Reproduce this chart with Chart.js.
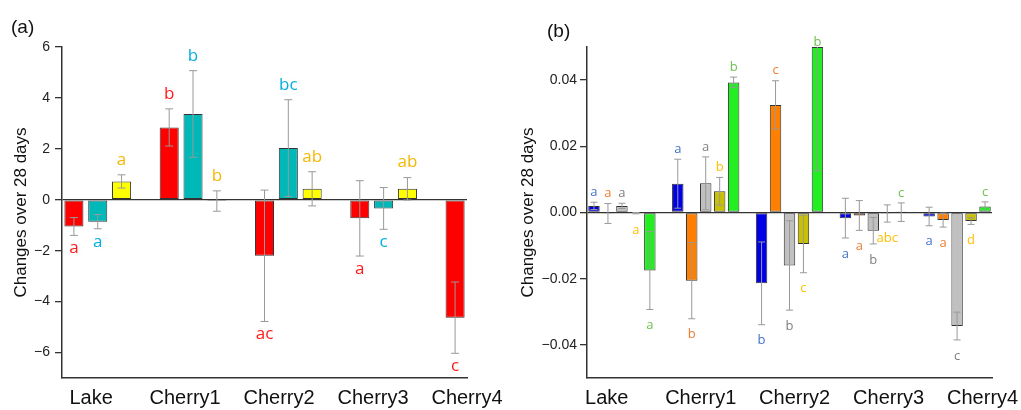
<!DOCTYPE html>
<html>
<head>
<meta charset="utf-8">
<script src="https://cdn.jsdelivr.net/npm/chart.js@4.4.1/dist/chart.umd.min.js"></script>
<style>
  html, body { margin: 0; padding: 0; background: #fff; }
  #wrap { position: relative; width: 1021px; height: 410px; overflow: hidden; }
  .panel { position: absolute; top: 0; height: 410px; }
  #panelA { left: 0; width: 510px; }
  #panelB { left: 510px; width: 511px; }
  .tag { position: absolute; font: 19px 'Liberation Sans', Arial, sans-serif; color: #111; }
</style>
</head>
<body>
<div id="wrap">
  <div class="panel" id="panelA"><canvas id="chartA"></canvas></div>
  <div class="panel" id="panelB"><canvas id="chartB"></canvas></div>
  <div class="tag" style="left:11px; top:16px;">(a)</div>
  <div class="tag" style="left:547px; top:20px;">(b)</div>
</div>
<script>
// ---- data ----
const categories = ['Lake', 'Cherry1', 'Cherry2', 'Cherry3', 'Cherry4'];

// panel (a)
const yTicksA = [-6, -4, -2, 0, 2, 4, 6];
const redA = [-1.05, 2.84, -2.20, -0.73, -4.63];
const redErrA = [0.35, 0.73, 2.58, 1.48, 1.40];
const redLetA = ['a', 'b', 'ac', 'a', 'c'];
const redSideA = [-1, 1, -1, -1, -1];
const cyanA = [-0.86, 3.37, 2.03, -0.34, null];
const cyanErrA = [0.28, 1.70, 1.90, 0.82, null];
const cyanLetA = ['a', 'b', 'bc', 'c', null];
const cyanSideA = [-1, 1, 1, -1, null];
const yellowA = [0.72, -0.05, 0.43, 0.43, null];
const yellowErrA = [0.26, 0.40, 0.67, 0.44, null];
const yellowLetA = ['a', 'b', 'ab', 'ab', null];
const yellowSideA = [1, 1, 1, 1, null];

// panel (b)
const yTicksB = [-0.04, -0.02, 0, 0.02, 0.04];
const blueB = [0.0020, 0.0087, -0.0214, -0.0017, -0.0012];
const blueErrB = [0.0011, 0.0074, 0.0125, 0.0060, 0.0028];
const blueLetB = ['a', 'a', 'b', 'a', 'a'];
const blueSideB = [1, 1, -1, -1, -1];
const orangeB = [-0.0003, -0.0206, 0.0325, -0.0009, -0.0023];
const orangeErrB = [0.0030, 0.0115, 0.0073, 0.0045, 0.0021];
const orangeLetB = ['a', 'b', 'c', 'a', 'a'];
const orangeSideB = [1, -1, 1, -1, -1];
const grayB = [0.0020, 0.0088, -0.0160, -0.0055, -0.0343];
const grayErrB = [0.0008, 0.0080, 0.0135, 0.0040, 0.0042];
const grayLetB = ['a', 'a', 'b', 'b', 'c'];
const graySideB = [1, 1, -1, -1, -1];
const oliveB = [-0.0002, 0.0064, -0.0095, -0.0003, -0.0026];
const oliveErrB = [0.0002, 0.0042, 0.0087, 0.0026, 0.0010];
const oliveLetB = ['a', 'b', 'c', 'abc', 'd'];
const oliveSideB = [-1, 1, -1, -1, -1];
const greenB = [-0.0175, 0.0393, 0.0500, 0.0001, 0.0018];
const greenErrB = [0.0118, 0.0016, 0.0374, 0.0028, 0.0014];
const greenLetB = ['a', 'b', 'b', 'c', 'c'];
const greenSideB = [-1, 1, 1, 1, 1];

const AXIS_FONT = "'Liberation Sans', Arial, sans-serif";
const LETTER_FONT = "'Open Sans', 'Noto Sans', sans-serif";
Chart.defaults.font.family = AXIS_FONT;

// spreads one value per site onto the bar slots (gap slot between sites)
function toSlots(values, k, stride, nSlots) {
  const out = new Array(nSlots).fill(null);
  values.forEach((v, g) => { if (v !== null) out[g * stride + k] = v; });
  return out;
}

function makeDataset(vals, errs, lets, sides, k, stride, nSlots, fill, letterColor, barPct) {
  return {
    data: toSlots(vals, k, stride, nSlots),
    errs: toSlots(errs, k, stride, nSlots),
    letters: toSlots(lets, k, stride, nSlots),
    sides: toSlots(sides, k, stride, nSlots),
    letterColor,
    backgroundColor: fill,
    borderColor: '#333',
    borderWidth: 1,
    borderSkipped: false,
    grouped: false,
    categoryPercentage: 1,
    barPercentage: barPct,
    xAxisID: 'x',
    yAxisID: 'y'
  };
}

// error bars + significance letters
const errorLetters = {
  id: 'errorLetters',
  afterDatasetsDraw(chart, args, opts) {
    const { ctx, chartArea } = chart;
    const y = chart.scales.y;
    ctx.save();
    chart.data.datasets.forEach((ds, di) => {
      const meta = chart.getDatasetMeta(di);
      meta.data.forEach((bar, i) => {
        const v = ds.data[i];
        if (v === null || v === undefined) return;
        const e = ds.errs[i];
        const yHi = y.getPixelForValue(v + e);
        const yLo = y.getPixelForValue(v - e);
        const x = bar.x;
        ctx.strokeStyle = opts.errColor;
        ctx.lineWidth = 1;
        ctx.beginPath();
        ctx.moveTo(x, Math.max(yHi, chartArea.top));
        ctx.lineTo(x, Math.min(yLo, chartArea.bottom));
        if (yHi >= chartArea.top) {
          ctx.moveTo(x - opts.cap, yHi);
          ctx.lineTo(x + opts.cap, yHi);
        }
        ctx.moveTo(x - opts.cap, yLo);
        ctx.lineTo(x + opts.cap, yLo);
        ctx.stroke();

        const side = ds.sides[i];
        let ly = side > 0 ? yHi - opts.gapUp : yLo + opts.gapDown;
        ly = Math.max(ly, chartArea.top - 5);
        ctx.save();
        ctx.shadowColor = 'rgba(0,0,0,0.08)';
        ctx.shadowBlur = 10;
        ctx.fillStyle = ds.letterColor;
        ctx.font = opts.fontSize + 'px ' + LETTER_FONT;
        ctx.textAlign = 'center';
        ctx.textBaseline = 'middle';
        ctx.fillText(ds.letters[i], x, ly);
        ctx.restore();
      });
    });
    ctx.restore();
  }
};

function fmtTick(v, dec) {
  return (v < 0 ? '\u2212' : '') + Math.abs(v).toFixed(dec);
}

function buildChart(canvasId, p) {
  return new Chart(document.getElementById(canvasId), {
    type: 'bar',
    data: { labels: p.slotLabels, datasets: p.datasets },
    plugins: [errorLetters],
    options: {
      responsive: true,
      maintainAspectRatio: false,
      animation: false,
      events: [],
      layout: { padding: { top: 47, right: p.padRight, bottom: 0, left: 0 } },
      plugins: {
        legend: { display: false },
        tooltip: { enabled: false },
        errorLetters: { errColor: '#999', cap: p.cap, gapUp: p.gapUp, gapDown: p.gapDown, fontSize: p.letterSize }
      },
      scales: {
        x: { type: 'category', display: false },
        xl: {
          type: 'linear',
          position: 'bottom',
          offset: false,
          min: p.labelMin,
          max: p.labelMax,
          afterBuildTicks: s => { s.ticks = categories.map((c, i) => ({ value: i })); },
          afterFit: s => { s.height = 32; s.paddingLeft = 0; s.paddingRight = 0; },
          grid: { display: false, drawTicks: false, offset: false },
          border: { display: true, color: '#333', width: 1.5 },
          ticks: {
            autoSkip: false,
            maxRotation: 0,
            padding: 8,
            color: '#111',
            font: { size: 20 },
            callback: v => categories[v] || ''
          }
        },
        y: {
          min: p.yMin,
          max: p.yMax,
          afterBuildTicks: s => { s.ticks = p.yTicks.map(v => ({ value: v })); },
          afterFit: s => { s.width = p.yWidth; },
          grid: {
            color: ctx => (ctx.tick && Math.abs(ctx.tick.value) < 1e-9 ? '#333' : 'rgba(0,0,0,0)'),
            tickColor: '#333',
            tickLength: 7,
            lineWidth: 1.3
          },
          border: { display: true, color: '#333', width: 1.5 },
          ticks: {
            padding: p.tickPad,
            color: '#222',
            font: { size: p.tickSize },
            callback: v => fmtTick(v, p.dec)
          },
          title: {
            display: true,
            text: 'Changes over 28 days',
            color: '#111',
            font: { size: 17 },
            padding: { top: p.titlePad, bottom: 0 }
          }
        }
      }
    }
  });
}

// panel (a): 3 bars per site + 1 gap slot
const strideA = 4, nA = 17;
buildChart('chartA', {
  slotLabels: Array.from({ length: nA }, (_, i) => String(i)),
  datasets: [
    makeDataset(redA, redErrA, redLetA, redSideA, 0, strideA, nA, '#ff0000', '#ff1a1a', 0.8),
    makeDataset(cyanA, cyanErrA, cyanLetA, cyanSideA, 1, strideA, nA, '#00b8b8', '#00aee0', 0.8),
    makeDataset(yellowA, yellowErrA, yellowLetA, yellowSideA, 2, strideA, nA, '#ffff00', '#f5b800', 0.8)
  ],
  padRight: 43, yWidth: 62, yMin: -7, yMax: 6, yTicks: yTicksA, dec: 0,
  tickSize: 14, tickPad: 5, titlePad: 11,
  labelMin: -0.31, labelMax: 4.0,
  cap: 4, gapUp: 15, gapDown: 13, letterSize: 17
});

// panel (b): 5 bars per site + 1 gap slot
const strideB = 6, nB = 29;
buildChart('chartB', {
  slotLabels: Array.from({ length: nB }, (_, i) => String(i)),
  datasets: [
    makeDataset(blueB, blueErrB, blueLetB, blueSideB, 0, strideB, nB, '#0000e6', '#4472c4', 0.82),
    makeDataset(orangeB, orangeErrB, orangeLetB, orangeSideB, 1, strideB, nB, '#ff8000', '#ed7d31', 0.82),
    makeDataset(grayB, grayErrB, grayLetB, graySideB, 2, strideB, nB, '#c0c0c0', '#808080', 0.82),
    makeDataset(oliveB, oliveErrB, oliveLetB, oliveSideB, 3, strideB, nB, '#c8c000', '#ffc000', 0.82),
    makeDataset(greenB, greenErrB, greenLetB, greenSideB, 4, strideB, nB, '#22ee22', '#70c050', 0.82)
  ],
  padRight: 29, yWidth: 77, yMin: -0.05, yMax: 0.05, yTicks: yTicksB, dec: 2,
  tickSize: 14, tickPad: 3, titlePad: 8,
  labelMin: -0.21, labelMax: 4.1,
  cap: 3.5, gapUp: 10, gapDown: 16, letterSize: 13
});
</script>
</body>
</html>
